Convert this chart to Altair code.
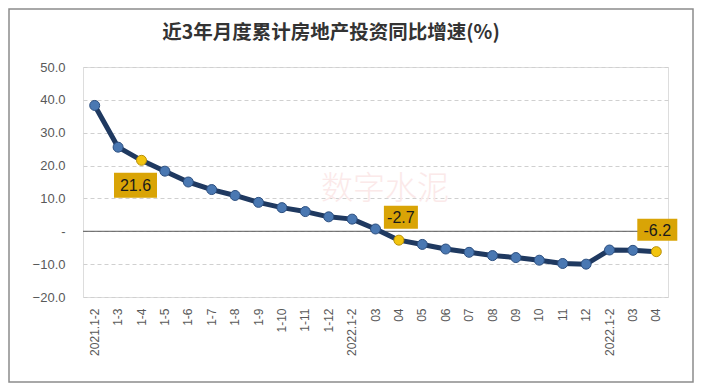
import altair as alt
import pandas as pd

title_text = "近3年月度累计房地产投资同比增速(%)"
labels = ["2021.1-2", "1-3", "1-4", "1-5", "1-6", "1-7", "1-8", "1-9", "1-10", "1-11", "1-12",
          "2022.1-2", "03", "04", "05", "06", "07", "08", "09", "10", "11", "12",
          "2022.1-2", "03", "04"]
values = [38.3, 25.6, 21.6, 18.3, 15.0, 12.7, 10.9, 8.8, 7.2, 6.0, 4.4,
          3.7, 0.7, -2.7, -4.0, -5.4, -6.4, -7.4, -8.0, -8.8, -9.8, -10.0,
          -5.7, -5.8, -6.2]
highlight_idx = [2, 13, 24]
# label box placement relative to its point: (dx, dy, box width, box height)
label_style = {2: (-6, 25, 43, 25), 13: (2, -23, 34, 23), 24: (1, -22, 40, 22)}

W, H = 585, 230
PL, PT, PR, PB = 75, 59, 26, 86

df = pd.DataFrame({"i": list(range(len(values))), "v": values})
df["hl"] = df["i"].isin(highlight_idx)
df["txt"] = df["v"].map(lambda v: f"{v:.1f}")

label_js = "[" + ",".join(f"'{l}'" for l in labels) + "]"

x_enc = alt.X("i:O", title=None, sort="ascending",
              axis=alt.Axis(labelExpr=f"{label_js}[datum.value]", labelAngle=-90,
                            labelFontSize=12, labelColor="#595959", labelFont="Liberation Sans",
                            ticks=False, domain=False, grid=False, labelPadding=11))
y_scale = alt.Scale(domain=[-20, 50], nice=False, zero=False)
y_enc = alt.Y("v:Q", title=None, scale=y_scale,
              axis=alt.Axis(values=[-20, -10, 0, 10, 20, 30, 40, 50],
                            labelExpr="datum.value == 0 ? '-' : format(datum.value, '.1f')",
                            labelFontSize=13, labelColor="#595959", labelFont="Liberation Sans",
                            labelOverlap=False,
                            ticks=False, domain=False, grid=True, gridColor="#D0D0D0",
                            gridDash=[4, 3], gridWidth=1, labelPadding=18))

base = alt.Chart(df).encode(x=x_enc, y=y_enc)

border = alt.Chart(pd.DataFrame({"a": [0]})).mark_rect(
    fill=None, stroke="#8C8C8C", strokeWidth=1.5
).encode(x=alt.value(-PL + 1), x2=alt.value(W + PR - 1),
         y=alt.value(-PT + 1), y2=alt.value(H + PB - 1))

title = alt.Chart(pd.DataFrame({"t": [title_text]})).mark_text(
    fontSize=19.5, font="Noto Sans CJK SC", fontWeight="bold", color="#333333",
    align="center", baseline="middle"
).encode(text="t:N", x=alt.value(248), y=alt.value(-34))

watermark = alt.Chart(pd.DataFrame({"t": ["数字水泥"]})).mark_text(
    fontSize=32, font="Noto Sans CJK SC", color="#FBE9E9", fontWeight=300
).encode(text="t:N", x=alt.value(302), y=alt.value(122))

zero = alt.Chart(pd.DataFrame({"v": [0]})).mark_rule(color="#595959", strokeWidth=1).encode(
    y=y_enc)

line = base.mark_line(color="#1F3960", strokeWidth=5, strokeJoin="round")

points = base.mark_point(filled=True, shape="circle", size=100, opacity=1,
                         strokeWidth=1).encode(
    fill=alt.condition("datum.hl", alt.value("#F2C40F"), alt.value("#4A78B2")),
    stroke=alt.condition("datum.hl", alt.value("#B8900A"), alt.value("#2C4F80")),
)

layers = [border, title, watermark, zero, line, points]
for idx in highlight_idx:
    dx, dy, bw, bh = label_style[idx]
    sub = base.transform_filter(f"datum.i == {idx}")
    box = sub.mark_rect(color="#D9A406", opacity=1,
                        width=bw, height=bh, xOffset=dx, yOffset=dy)
    txt = sub.mark_text(fontSize=16, font="Liberation Sans", color="#1A1A1A",
                        xOffset=dx, yOffset=dy + 1).encode(text="txt:N")
    layers += [box, txt]

chart = alt.layer(*layers).properties(
    width=W, height=H,
    autosize=alt.AutoSizeParams(type="none"),
    padding={"left": PL, "top": PT, "right": PR, "bottom": PB},
).configure_view(stroke=None).configure(background="white")

chart.save("out.html", embed_options={"renderer": "svg", "actions": False})
